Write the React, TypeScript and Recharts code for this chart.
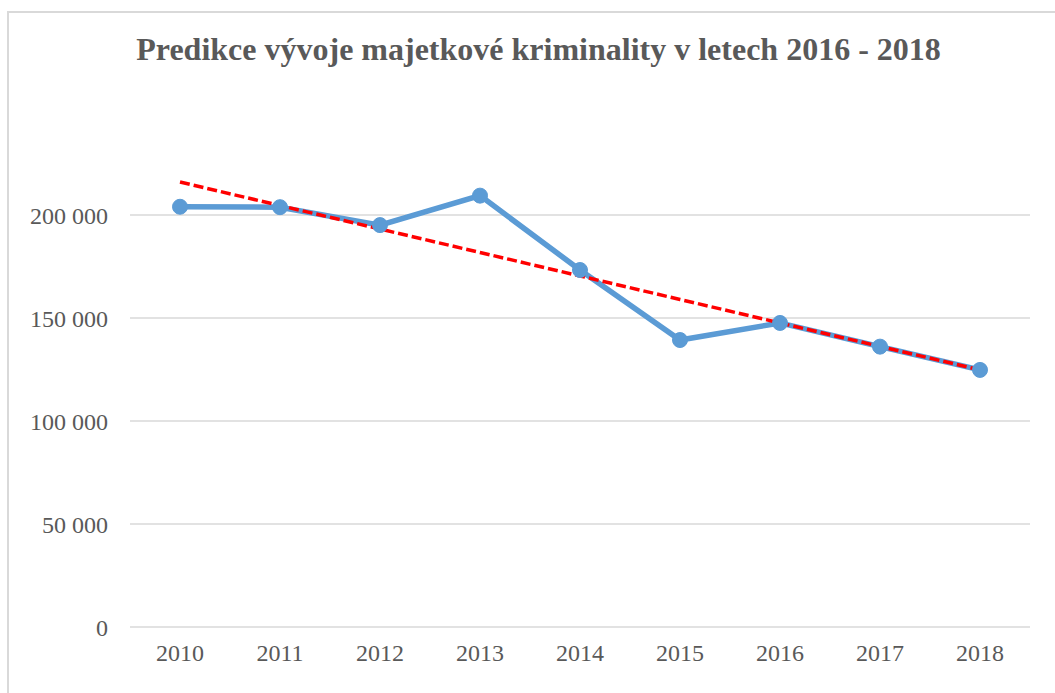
import React from "react";
import { LineChart, Line, XAxis, YAxis, CartesianGrid } from "recharts";

const years = ["2010", "2011", "2012", "2013", "2014", "2015", "2016", "2017", "2018"];
const crimes = [204000, 203800, 195100, 209400, 173300, 139300, 147600, 136100, 124800];
const trend = [216000, 204600, 193200, 181800, 170400, 159000, 147600, 136200, 124800];
const yTicks = [0, 50000, 100000, 150000, 200000];

const data = years.map((y, i) => ({ year: y, value: crimes[i], trend: trend[i] }));

const fmt = (v: number) => (v === 0 ? "0" : v.toLocaleString("en-US").replace(/,/g, " "));

const FONT = "'Liberation Serif', 'Times New Roman', serif";

export default function App() {
  return (
    <div style={{ position: "fixed", left: 0, top: 0, width: 1055, height: 693, overflow: "hidden", background: "#fff" }}>
      <div
        style={{
          position: "absolute",
          left: 7,
          top: 11,
          width: 1200,
          height: 800,
          border: "2px solid #d9d9d9",
          boxSizing: "border-box",
        }}
      />
      <div
        style={{
          position: "absolute",
          left: 0,
          top: 31,
          width: 1077,
          textAlign: "center",
          fontFamily: FONT,
          fontWeight: "bold",
          fontSize: 32,
          color: "#595959",
          lineHeight: "36px",
          whiteSpace: "nowrap",
        }}
      >
        Predikce vývoje majetkové kriminality v letech 2016 - 2018
      </div>
      <div style={{ position: "absolute", left: 0, top: 0 }}>
        <LineChart
          width={1055}
          height={693}
          data={data}
          margin={{ top: 112, right: 25, bottom: 0, left: 0 }}
        >
          <CartesianGrid
            horizontal
            vertical={false}
            horizontalValues={yTicks}
            stroke="#d9d9d9"
            strokeWidth={1.5}
          />
          <XAxis
            dataKey="year"
            padding={{ left: 50, right: 50 }}
            axisLine={false}
            tickLine={false}
            tickSize={0}
            tickMargin={17}
            height={66}
            tick={{ fontFamily: FONT, fontSize: 24, fill: "#595959" }}
            interval={0}
          />
          <YAxis
            width={130}
            domain={[0, 250000]}
            ticks={yTicks}
            tickFormatter={fmt}
            axisLine={false}
            tickLine={false}
            tickSize={0}
            tickMargin={22}
            tick={{ fontFamily: FONT, fontSize: 24, fill: "#595959" }}
          />
          <Line
            type="linear"
            dataKey="value"
            stroke="#5B9BD5"
            strokeWidth={5.5}
            dot={{ r: 7.5, fill: "#5B9BD5", stroke: "#5B9BD5", strokeWidth: 1 }}
            isAnimationActive={false}
          />
          <Line
            type="linear"
            dataKey="trend"
            stroke="#FF0000"
            strokeWidth={3.5}
            strokeDasharray="10 4"
            dot={false}
            activeDot={false}
            isAnimationActive={false}
          />
        </LineChart>
      </div>
    </div>
  );
}
